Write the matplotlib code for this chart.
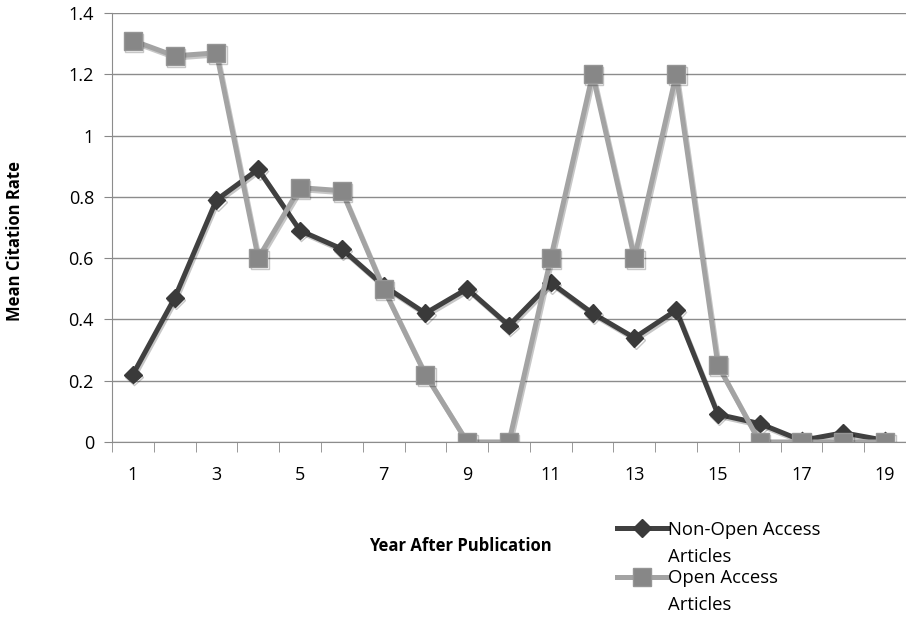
import numpy as np
import matplotlib
matplotlib.use("Agg")
import matplotlib.pyplot as plt
import matplotlib.patheffects as pe
from matplotlib.lines import Line2D
from matplotlib.ticker import FixedLocator

plt.rcParams['font.family'] = ['Open Sans', 'DejaVu Sans']

# data
years = list(range(1, 20))
non_open = [0.22, 0.47, 0.79, 0.89, 0.69, 0.63, 0.51, 0.42, 0.50, 0.38,
            0.52, 0.42, 0.34, 0.43, 0.09, 0.06, 0.005, 0.03, 0.005]
open_access = [1.31, 1.26, 1.27, 0.60, 0.83, 0.82, 0.50, 0.22, 0.0, 0.0,
               0.60, 1.20, 0.60, 1.20, 0.25, 0.0, 0.0, 0.0, 0.0]
y_ticks = [0, 0.2, 0.4, 0.6, 0.8, 1, 1.2, 1.4]
y_labels = ['0', '0.2', '0.4', '0.6', '0.8', '1', '1.2', '1.4']
x_labels = [1, 3, 5, 7, 9, 11, 13, 15, 17, 19]

dark = dict(color='#404040', lw=3.6, marker='D', ms=9, mfc='#3a3a3a', mec='#3a3a3a')
light = dict(color='#a3a3a3', lw=3.6, marker='s', ms=13, mfc='#878787',
             mec='#959595', mew=1)

fig = plt.figure(figsize=(9.06, 6.19), dpi=100)
ax = fig.add_axes([0.1236, 0.286, 0.8764, 0.693])

shadow = [pe.SimpleLineShadow(offset=(1, -1.5), alpha=0.22, shadow_color='k'),
          pe.Normal()]

ax.plot(years, non_open, path_effects=shadow, zorder=3, **dark)
ax.plot(years, open_access, path_effects=shadow, zorder=4, **light)

ax.set_xlim(0.5, 19.5)
ax.set_ylim(0, 1.4)
ax.set_yticks(y_ticks)
ax.set_yticklabels(y_labels)
ax.set_xticks(x_labels)
ax.xaxis.set_minor_locator(FixedLocator(np.arange(0.5, 20, 1)))
ax.tick_params(axis='x', which='major', length=0, pad=17, labelsize=13)
ax.tick_params(axis='x', which='minor', length=7, color='#888888', direction='out')
ax.tick_params(axis='y', length=6, color='#888888', labelsize=13, pad=7)

ax.grid(axis='y', color='#8c8c8c', lw=1)
ax.set_axisbelow(True)
for s in ['top', 'right']:
    ax.spines[s].set_visible(False)
for s in ['left', 'bottom']:
    ax.spines[s].set_color('#8c8c8c')

fig.text(0.017, 0.61, 'Mean Citation Rate', rotation=90, ha='center', va='center',
         fontsize=12, fontweight='bold')
fig.text(0.508, 0.118, 'Year After Publication', ha='center', va='center',
         fontsize=12, fontweight='bold')

# legend, laid out like the original (handle beside the first line of each label)
hx = [0.681, 0.736]
no_lw = lambda d: {k: v for k, v in d.items() if k != 'lw'}
fig.add_artist(Line2D(hx, [0.147, 0.147], transform=fig.transFigure,
                      markevery=[], **dark))
fig.add_artist(Line2D([0.7085], [0.147], transform=fig.transFigure, ls='none',
                      **no_lw(dark)))
fig.add_artist(Line2D(hx, [0.068, 0.068], transform=fig.transFigure,
                      markevery=[], **light))
fig.add_artist(Line2D([0.7085], [0.068], transform=fig.transFigure, ls='none',
                      **no_lw(light)))
tx = 0.737
for y, s in [(0.1357, 'Non-Open Access'), (0.0921, 'Articles'),
             (0.0582, 'Open Access'), (0.0145, 'Articles')]:
    fig.text(tx, y, s, fontsize=13.3, va='baseline', ha='left')

fig.savefig('out.png', dpi=100)
